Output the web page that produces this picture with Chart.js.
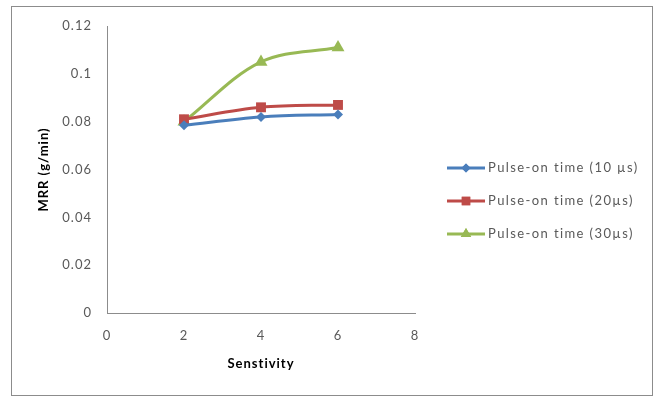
<!DOCTYPE html>
<html>
<head>
<meta charset="utf-8">
<script src="https://cdn.jsdelivr.net/npm/chart.js@4/dist/chart.umd.min.js"></script>
<style>
  html, body { margin: 0; padding: 0; background: #ffffff; }
  #wrap { width: 654px; height: 399px; position: relative; }
</style>
</head>
<body>
<div id="wrap"><canvas id="chart" width="654" height="399"></canvas></div>
<script>
// Sensitivity settings (x) and material removal rate (g/min) per pulse-on time
const sensitivity = [2, 4, 6];
const mrr10 = [0.0785, 0.082, 0.083];
const mrr20 = [0.081, 0.086, 0.087];
const mrr30 = [0.080, 0.105, 0.111];

const seriesNames = ['Pulse-on time (10 µs)', 'Pulse-on time (20µs)', 'Pulse-on time (30µs)'];
const xTicks = [0, 2, 4, 6, 8];
const yTicks = [0, 0.02, 0.04, 0.06, 0.08, 0.1, 0.12];

const FONT = 'Lato, "Open Sans", sans-serif';
const TEXT = '#595959';
const AXIS = '#8c8c8c';

const styles = [
  { color: '#4a7ebb', point: 'rectRot', r: 5, lr: 4.5 },
  { color: '#be4b48', point: 'rect', r: 7, lr: 6 },
  { color: '#98b954', point: 'triangle', r: 7.5, lr: 6 }
];

function toPoints(values) {
  return sensitivity.map((x, i) => ({ x: x, y: values[i] }));
}

const datasets = [mrr10, mrr20, mrr30].map((vals, i) => ({
  label: seriesNames[i],
  data: toPoints(vals),
  borderColor: styles[i].color,
  backgroundColor: styles[i].color,
  borderWidth: 3,
  tension: 0.35,
  pointStyle: styles[i].point,
  pointRadius: styles[i].r,
  pointBorderWidth: 0,
  pointBackgroundColor: styles[i].color,
  showLine: true,
  fill: false
}));

// White background, outer frame, and slightly open letter spacing for all text
const framePlugin = {
  id: 'frame',
  beforeDraw(chart) {
    const ctx = chart.ctx;
    ctx.save();
    ctx.fillStyle = '#ffffff';
    ctx.fillRect(0, 0, chart.width, chart.height);
    ctx.strokeStyle = '#8c8c8c';
    ctx.lineWidth = 1;
    ctx.strokeRect(11.5, 6.5, 641, 389);
    ctx.restore();
    ctx.letterSpacing = '1px';
  }
};

// Legend entries on the right: short line with the series marker in its middle
const sideLegend = {
  id: 'sideLegend',
  afterDraw(chart) {
    const ctx = chart.ctx;
    const x0 = 447, x1 = 485, tx = 488;
    const rows = [168, 201, 234];
    ctx.save();
    chart.data.datasets.forEach((ds, i) => {
      const y = rows[i];
      ctx.strokeStyle = ds.borderColor;
      ctx.lineWidth = 3;
      ctx.beginPath();
      ctx.moveTo(x0, y);
      ctx.lineTo(x1, y);
      ctx.stroke();
      ctx.fillStyle = ds.borderColor;
      Chart.helpers.drawPoint(ctx, { pointStyle: styles[i].point, radius: styles[i].lr, borderWidth: 0 }, (x0 + x1) / 2, y);
      ctx.fill();
      ctx.fillStyle = TEXT;
      ctx.font = '13px ' + FONT;
      ctx.letterSpacing = '1.4px';
      ctx.textBaseline = 'middle';
      ctx.textAlign = 'left';
      ctx.fillText(ds.label, tx, y);
    });
    ctx.restore();
  }
};

new Chart(document.getElementById('chart'), {
  type: 'scatter',
  data: { datasets: datasets },
  plugins: [framePlugin, sideLegend],
  options: {
    responsive: false,
    animation: false,
    layout: { padding: { left: 12, top: 26, right: 239, bottom: 20 } },
    plugins: { legend: { display: false }, tooltip: { enabled: false } },
    scales: {
      x: {
        type: 'linear',
        min: 0, max: 8,
        afterBuildTicks(scale) { scale.ticks = xTicks.map(v => ({ value: v })); },
        afterFit(scale) { scale.height = 66; },
        grid: { display: false, drawTicks: false },
        border: { display: true, color: AXIS, width: 1 },
        ticks: { color: TEXT, font: { family: FONT, size: 13 }, padding: 15 },
        title: {
          display: true, text: 'Senstivity', color: '#000000',
          font: { family: FONT, size: 13, weight: 'bold' },
          padding: { top: 0, bottom: 7 }
        }
      },
      y: {
        type: 'linear',
        min: 0, max: 0.12,
        afterBuildTicks(scale) { scale.ticks = yTicks.map(v => ({ value: v })); },
        afterFit(scale) { scale.width = 95; },
        grid: { display: false, drawTicks: false },
        border: { display: true, color: AXIS, width: 1 },
        ticks: {
          color: TEXT, font: { family: FONT, size: 13 }, padding: 15,
          callback: v => String(Math.round(v * 100) / 100)
        },
        title: {
          display: true, text: 'MRR (g/min)', color: '#000000',
          font: { family: FONT, size: 13, weight: 'bold' },
          padding: { top: 24, bottom: 0 }
        }
      }
    }
  }
});
</script>
</body>
</html>
